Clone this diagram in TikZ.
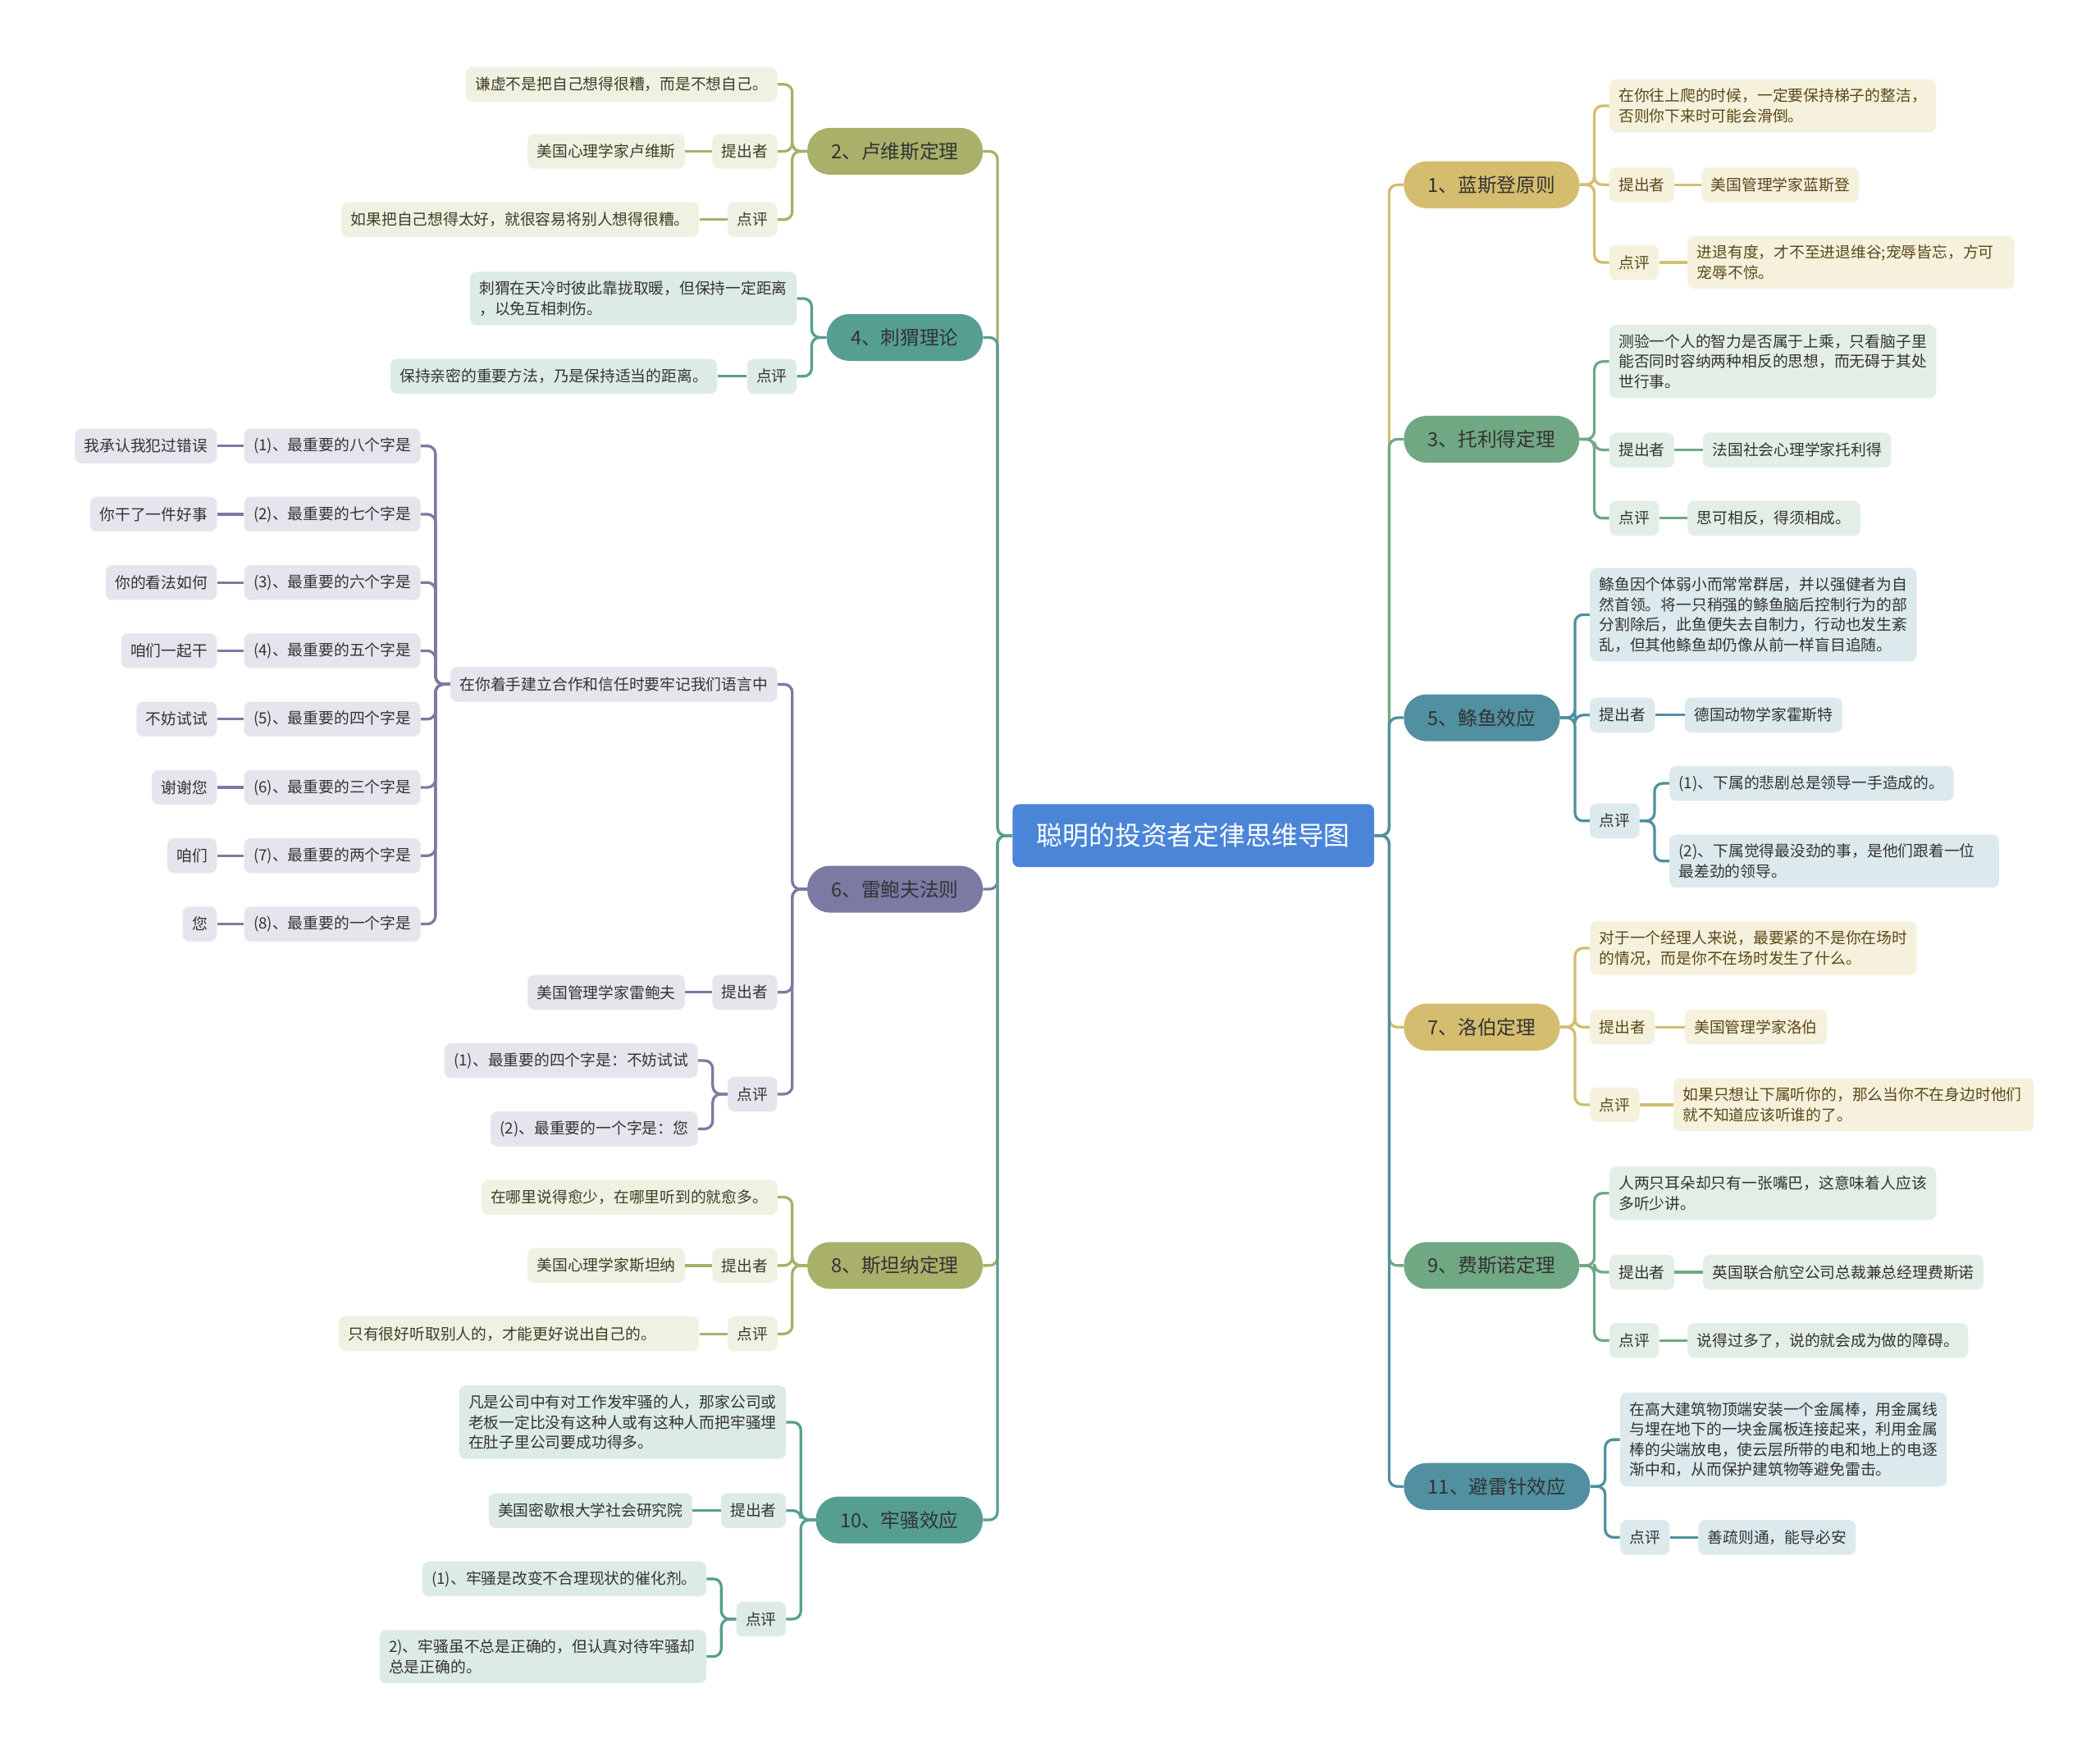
\documentclass[tikz,border=0pt]{standalone}
\usepackage{fontspec}
\setmainfont{Noto Sans CJK SC}
\usetikzlibrary{positioning, calc}

\definecolor{rootblue}{HTML}{4A85D8}
\definecolor{oliveD}{HTML}{A8B06A}
\definecolor{oliveL}{HTML}{F0F1E3}
\definecolor{oliveT}{HTML}{3E3E22}
\definecolor{tealD}{HTML}{569E92}
\definecolor{tealL}{HTML}{DDEBE8}
\definecolor{purD}{HTML}{7A7AA3}
\definecolor{purL}{HTML}{E5E5EE}
\definecolor{goldD}{HTML}{D4BD6E}
\definecolor{goldL}{HTML}{F6F1DD}
\definecolor{goldT}{HTML}{5A4818}
\definecolor{grnD}{HTML}{71A884}
\definecolor{grnL}{HTML}{E3EFE6}
\definecolor{bluD}{HTML}{5090A0}
\definecolor{bluL}{HTML}{DCE9ED}
\definecolor{ink}{HTML}{333333}

\begin{document}
\begin{tikzpicture}[
    x=1pt, y=-1pt,
    rootbox/.style={fill=rootblue, text=white, rounded corners=5pt, minimum height=47pt, inner xsep=18pt, font=\fontsize{19.5}{23}\selectfont},
    topic/.style={fill=#1, text=ink, rounded corners=17pt, minimum height=35pt, inner xsep=18pt, font=\fontsize{14.5}{18}\selectfont},
    leaf/.style={rounded corners=5pt, minimum height=26pt, inner xsep=7pt, inner ysep=7pt, align=left, font=\fontsize{11.5}{15}\selectfont},
    para/.style={text width=#1}, para/.default=230pt,
    olv/.style={leaf, fill=oliveL, text=oliveT},
    tea/.style={leaf, fill=tealL, text=ink},
    pur/.style={leaf, fill=purL, text=ink},
    gld/.style={leaf, fill=goldL, text=goldT},
    grn/.style={leaf, fill=grnL, text=ink},
    blu/.style={leaf, fill=bluL, text=ink},
    wire/.style={draw=#1, line width=2pt, rounded corners=6pt}
]
  \path[use as bounding box, fill=white] (0,0) rectangle (1568,1308);

  \node[rootbox] (root) at (891,624) {聪明的投资者定律思维导图};

  % left side
  \node[topic=oliveD, anchor=east] (b2) at (734,113) {2、卢维斯定理};
  \node[topic=tealD, anchor=east] (b4) at (734,252) {4、刺猬理论};
  \node[topic=purD, anchor=east] (b6) at (734,664) {6、雷鲍夫法则};
  \node[topic=oliveD, anchor=east] (b8) at (734,945) {8、斯坦纳定理};
  \node[topic=tealD, anchor=east] (b10) at (734,1135) {10、牢骚效应};

  % right side
  \node[topic=goldD, anchor=west] (b1) at (1048,138) {1、蓝斯登原则};
  \node[topic=grnD, anchor=west] (b3) at (1048,328) {3、托利得定理};
  \node[topic=bluD, anchor=west] (b5) at (1048,536) {5、鲦鱼效应};
  \node[topic=goldD, anchor=west] (b7) at (1048,767) {7、洛伯定理};
  \node[topic=grnD, anchor=west] (b9) at (1048,945) {9、费斯诺定理};
  \node[topic=bluD, anchor=west] (b11) at (1048,1110) {11、避雷针效应};

  \draw[wire=oliveD] (root.west) -- ++(-11,0) |- (b2.east);
  \draw[wire=tealD] (root.west) -- ++(-11,0) |- (b4.east);
  \draw[wire=purD] (root.west) -- ++(-11,0) |- (b6.east);
  \draw[wire=oliveD] (root.west) -- ++(-11,0) |- (b8.east);
  \draw[wire=tealD] (root.west) -- ++(-11,0) |- (b10.east);
  \draw[wire=goldD] (root.east) -- ++(11,0) |- (b1.west);
  \draw[wire=grnD] (root.east) -- ++(11,0) |- (b3.west);
  \draw[wire=bluD] (root.east) -- ++(11,0) |- (b5.west);
  \draw[wire=goldD] (root.east) -- ++(11,0) |- (b7.west);
  \draw[wire=grnD] (root.east) -- ++(11,0) |- (b9.west);
  \draw[wire=bluD] (root.east) -- ++(11,0) |- (b11.west);

  % 2
  \node[olv, anchor=east] (b2a) at ($(b2.west)+(-22,-50)$) {谦虚不是把自己想得很糟，而是不想自己。};
  \node[olv, left=22pt of b2] (b2p) {提出者};
  \node[olv, left=20pt of b2p] (b2pv) {美国心理学家卢维斯};
  \node[olv, anchor=east] (b2c) at ($(b2.west)+(-22,51)$) {点评};
  \node[olv, left=21pt of b2c] (b2cv) {如果把自己想得太好，就很容易将别人想得很糟。};
  \draw[wire=oliveD] (b2.west) -- ++(-11,0) |- (b2a.east);
  \draw[wire=oliveD] (b2.west) -- ++(-11,0) |- (b2p.east);
  \draw[wire=oliveD] (b2.west) -- ++(-11,0) |- (b2c.east);
  \draw[wire=oliveD] (b2p) -- (b2pv);
  \draw[wire=oliveD] (b2c) -- (b2cv);

  % 4
  \node[tea, para, anchor=east] (b4a) at ($(b4.west)+(-22,-29)$) {刺猬在天冷时彼此靠拢取暖，但保持一定距离\\，以免互相刺伤。};
  \node[tea, anchor=east] (b4c) at ($(b4.west)+(-22,29)$) {点评};
  \node[tea, left=22pt of b4c] (b4cv) {保持亲密的重要方法，乃是保持适当的距离。};
  \draw[wire=tealD] (b4.west) -- ++(-11,0) |- (b4a.east);
  \draw[wire=tealD] (b4.west) -- ++(-11,0) |- (b4c.east);
  \draw[wire=tealD] (b4c) -- (b4cv);

  % 6
  \node[pur, anchor=east] (b6a) at ($(b6.west)+(-22,-153)$) {在你着手建立合作和信任时要牢记我们语言中};
  \node[pur, anchor=east] (w1) at ($(b6a.west)+(-22,-178)$) {(1)、最重要的八个字是};
  \node[pur, anchor=east] (w2) at ($(b6a.west)+(-22,-127)$) {(2)、最重要的七个字是};
  \node[pur, anchor=east] (w3) at ($(b6a.west)+(-22,-76)$) {(3)、最重要的六个字是};
  \node[pur, anchor=east] (w4) at ($(b6a.west)+(-22,-25)$) {(4)、最重要的五个字是};
  \node[pur, anchor=east] (w5) at ($(b6a.west)+(-22,26)$) {(5)、最重要的四个字是};
  \node[pur, anchor=east] (w6) at ($(b6a.west)+(-22,77)$) {(6)、最重要的三个字是};
  \node[pur, anchor=east] (w7) at ($(b6a.west)+(-22,128)$) {(7)、最重要的两个字是};
  \node[pur, anchor=east] (w8) at ($(b6a.west)+(-22,179)$) {(8)、最重要的一个字是};
  \node[pur, left=20pt of w1] (w1v) {我承认我犯过错误};
  \node[pur, left=20pt of w2] (w2v) {你干了一件好事};
  \node[pur, left=20pt of w3] (w3v) {你的看法如何};
  \node[pur, left=20pt of w4] (w4v) {咱们一起干};
  \node[pur, left=20pt of w5] (w5v) {不妨试试};
  \node[pur, left=20pt of w6] (w6v) {谢谢您};
  \node[pur, left=20pt of w7] (w7v) {咱们};
  \node[pur, left=20pt of w8] (w8v) {您};
  \node[pur, anchor=east] (b6p) at ($(b6.west)+(-22,77)$) {提出者};
  \node[pur, left=20pt of b6p] (b6pv) {美国管理学家雷鲍夫};
  \node[pur, anchor=east] (b6c) at ($(b6.west)+(-22,153)$) {点评};
  \node[pur, anchor=east] (b6c1) at ($(b6c.west)+(-22,-25)$) {(1)、最重要的四个字是：不妨试试};
  \node[pur, anchor=east] (b6c2) at ($(b6c.west)+(-22,26)$) {(2)、最重要的一个字是：您};
  \draw[wire=purD] (b6.west) -- ++(-11,0) |- (b6a.east);
  \draw[wire=purD] (b6.west) -- ++(-11,0) |- (b6p.east);
  \draw[wire=purD] (b6.west) -- ++(-11,0) |- (b6c.east);
  \draw[wire=purD] (b6a.west) -- ++(-11,0) |- (w1.east);
  \draw[wire=purD] (b6a.west) -- ++(-11,0) |- (w2.east);
  \draw[wire=purD] (b6a.west) -- ++(-11,0) |- (w3.east);
  \draw[wire=purD] (b6a.west) -- ++(-11,0) |- (w4.east);
  \draw[wire=purD] (b6a.west) -- ++(-11,0) |- (w5.east);
  \draw[wire=purD] (b6a.west) -- ++(-11,0) |- (w6.east);
  \draw[wire=purD] (b6a.west) -- ++(-11,0) |- (w7.east);
  \draw[wire=purD] (b6a.west) -- ++(-11,0) |- (w8.east);
  \draw[wire=purD] (w1) -- (w1v);
  \draw[wire=purD] (w2) -- (w2v);
  \draw[wire=purD] (w3) -- (w3v);
  \draw[wire=purD] (w4) -- (w4v);
  \draw[wire=purD] (w5) -- (w5v);
  \draw[wire=purD] (w6) -- (w6v);
  \draw[wire=purD] (w7) -- (w7v);
  \draw[wire=purD] (w8) -- (w8v);
  \draw[wire=purD] (b6p) -- (b6pv);
  \draw[wire=purD] (b6c.west) -- ++(-11,0) |- (b6c1.east);
  \draw[wire=purD] (b6c.west) -- ++(-11,0) |- (b6c2.east);

  % 8
  \node[olv, anchor=east] (b8a) at ($(b8.west)+(-22,-51)$) {在哪里说得愈少，在哪里听到的就愈多。};
  \node[olv, left=22pt of b8] (b8p) {提出者};
  \node[olv, left=20pt of b8p] (b8pv) {美国心理学家斯坦纳};
  \node[olv, anchor=east] (b8c) at ($(b8.west)+(-22,51)$) {点评};
  \node[olv, para=255pt, left=21pt of b8c] (b8cv) {只有很好听取别人的，才能更好说出自己的。};
  \draw[wire=oliveD] (b8.west) -- ++(-11,0) |- (b8a.east);
  \draw[wire=oliveD] (b8.west) -- ++(-11,0) |- (b8p.east);
  \draw[wire=oliveD] (b8.west) -- ++(-11,0) |- (b8c.east);
  \draw[wire=oliveD] (b8p) -- (b8pv);
  \draw[wire=oliveD] (b8c) -- (b8cv);

  % 10
  \node[tea, para, anchor=east] (b10a) at ($(b10.west)+(-22,-73)$) {凡是公司中有对工作发牢骚的人，那家公司或\\老板一定比没有这种人或有这种人而把牢骚埋\\在肚子里公司要成功得多。};
  \node[tea, anchor=east] (b10p) at ($(b10.west)+(-22,-7)$) {提出者};
  \node[tea, left=21pt of b10p] (b10pv) {美国密歇根大学社会研究院};
  \node[tea, anchor=east] (b10c) at ($(b10.west)+(-22,74)$) {点评};
  \node[tea, anchor=east] (b10c1) at ($(b10c.west)+(-22,-30)$) {(1)、牢骚是改变不合理现状的催化剂。};
  \node[tea, para, anchor=east] (b10c2) at ($(b10c.west)+(-22,28)$) {2)、牢骚虽不总是正确的，但认真对待牢骚却\\总是正确的。};
  \draw[wire=tealD] (b10.west) -- ++(-11,0) |- (b10a.east);
  \draw[wire=tealD] (b10.west) -- ++(-11,0) |- (b10p.east);
  \draw[wire=tealD] (b10.west) -- ++(-11,0) |- (b10c.east);
  \draw[wire=tealD] (b10p) -- (b10pv);
  \draw[wire=tealD] (b10c.west) -- ++(-11,0) |- (b10c1.east);
  \draw[wire=tealD] (b10c.west) -- ++(-11,0) |- (b10c2.east);

  % 1
  \node[gld, para, anchor=west] (b1a) at ($(b1.east)+(22,-59)$) {在你往上爬的时候，一定要保持梯子的整洁，\\否则你下来时可能会滑倒。};
  \node[gld, right=22pt of b1] (b1p) {提出者};
  \node[gld, right=20pt of b1p] (b1pv) {美国管理学家蓝斯登};
  \node[gld, anchor=west] (b1c) at ($(b1.east)+(22,58)$) {点评};
  \node[gld, para, right=21pt of b1c] (b1cv) {进退有度，才不至进退维谷;宠辱皆忘，方可\\宠辱不惊。};
  \draw[wire=goldD] (b1.east) -- ++(11,0) |- (b1a.west);
  \draw[wire=goldD] (b1.east) -- ++(11,0) |- (b1p.west);
  \draw[wire=goldD] (b1.east) -- ++(11,0) |- (b1c.west);
  \draw[wire=goldD] (b1p) -- (b1pv);
  \draw[wire=goldD] (b1c) -- (b1cv);

  % 3
  \node[grn, para, anchor=west] (b3a) at ($(b3.east)+(22,-58)$) {测验一个人的智力是否属于上乘，只看脑子里\\能否同时容纳两种相反的思想，而无碍于其处\\世行事。};
  \node[grn, anchor=west] (b3p) at ($(b3.east)+(22,8)$) {提出者};
  \node[grn, right=21pt of b3p] (b3pv) {法国社会心理学家托利得};
  \node[grn, anchor=west] (b3c) at ($(b3.east)+(22,59)$) {点评};
  \node[grn, right=21pt of b3c] (b3cv) {思可相反，得须相成。};
  \draw[wire=grnD] (b3.east) -- ++(11,0) |- (b3a.west);
  \draw[wire=grnD] (b3.east) -- ++(11,0) |- (b3p.west);
  \draw[wire=grnD] (b3.east) -- ++(11,0) |- (b3c.west);
  \draw[wire=grnD] (b3p) -- (b3pv);
  \draw[wire=grnD] (b3c) -- (b3cv);

  % 5
  \node[blu, para, anchor=west] (b5a) at ($(b5.east)+(22,-77)$) {鲦鱼因个体弱小而常常群居，并以强健者为自\\然首领。将一只稍强的鲦鱼脑后控制行为的部\\分割除后，此鱼便失去自制力，行动也发生紊\\乱，但其他鲦鱼却仍像从前一样盲目追随。};
  \node[blu, anchor=west] (b5p) at ($(b5.east)+(22,-2)$) {提出者};
  \node[blu, right=22pt of b5p] (b5pv) {德国动物学家霍斯特};
  \node[blu, anchor=west] (b5c) at ($(b5.east)+(22,77)$) {点评};
  \node[blu, anchor=west] (b5c1) at ($(b5c.east)+(22,-28)$) {(1)、下属的悲剧总是领导一手造成的。};
  \node[blu, para=232pt, anchor=west] (b5c2) at ($(b5c.east)+(22,30)$) {(2)、下属觉得最没劲的事，是他们跟着一位\\最差劲的领导。};
  \draw[wire=bluD] (b5.east) -- ++(11,0) |- (b5a.west);
  \draw[wire=bluD] (b5.east) -- ++(11,0) |- (b5p.west);
  \draw[wire=bluD] (b5.east) -- ++(11,0) |- (b5c.west);
  \draw[wire=bluD] (b5p) -- (b5pv);
  \draw[wire=bluD] (b5c.east) -- ++(11,0) |- (b5c1.west);
  \draw[wire=bluD] (b5c.east) -- ++(11,0) |- (b5c2.west);

  % 7
  \node[gld, para, anchor=west] (b7a) at ($(b7.east)+(22,-59)$) {对于一个经理人来说，最要紧的不是你在场时\\的情况，而是你不在场时发生了什么。};
  \node[gld, right=22pt of b7] (b7p) {提出者};
  \node[gld, right=22pt of b7p] (b7pv) {美国管理学家洛伯};
  \node[gld, anchor=west] (b7c) at ($(b7.east)+(22,58)$) {点评};
  \node[gld, para=255pt, right=25pt of b7c] (b7cv) {如果只想让下属听你的，那么当你不在身边时他们\\就不知道应该听谁的了。};
  \draw[wire=goldD] (b7.east) -- ++(11,0) |- (b7a.west);
  \draw[wire=goldD] (b7.east) -- ++(11,0) |- (b7p.west);
  \draw[wire=goldD] (b7.east) -- ++(11,0) |- (b7c.west);
  \draw[wire=goldD] (b7p) -- (b7pv);
  \draw[wire=goldD] (b7c) -- (b7cv);

  % 9
  \node[grn, para, anchor=west] (b9a) at ($(b9.east)+(22,-54)$) {人两只耳朵却只有一张嘴巴，这意味着人应该\\多听少讲。};
  \node[grn, anchor=west] (b9p) at ($(b9.east)+(22,5)$) {提出者};
  \node[grn, right=21pt of b9p] (b9pv) {英国联合航空公司总裁兼总经理费斯诺};
  \node[grn, anchor=west] (b9c) at ($(b9.east)+(22,56)$) {点评};
  \node[grn, right=21pt of b9c] (b9cv) {说得过多了，说的就会成为做的障碍。};
  \draw[wire=grnD] (b9.east) -- ++(11,0) |- (b9a.west);
  \draw[wire=grnD] (b9.east) -- ++(11,0) |- (b9p.west);
  \draw[wire=grnD] (b9.east) -- ++(11,0) |- (b9c.west);
  \draw[wire=grnD] (b9p) -- (b9pv);
  \draw[wire=grnD] (b9c) -- (b9cv);

  % 11
  \node[blu, para, anchor=west] (b11a) at ($(b11.east)+(22,-35)$) {在高大建筑物顶端安装一个金属棒，用金属线\\与埋在地下的一块金属板连接起来，利用金属\\棒的尖端放电，使云层所带的电和地上的电逐\\渐中和，从而保护建筑物等避免雷击。};
  \node[blu, anchor=west] (b11c) at ($(b11.east)+(22,38)$) {点评};
  \node[blu, right=21pt of b11c] (b11cv) {善疏则通，能导必安};
  \draw[wire=bluD] (b11.east) -- ++(11,0) |- (b11a.west);
  \draw[wire=bluD] (b11.east) -- ++(11,0) |- (b11c.west);
  \draw[wire=bluD] (b11c) -- (b11cv);
\end{tikzpicture}
\end{document}
